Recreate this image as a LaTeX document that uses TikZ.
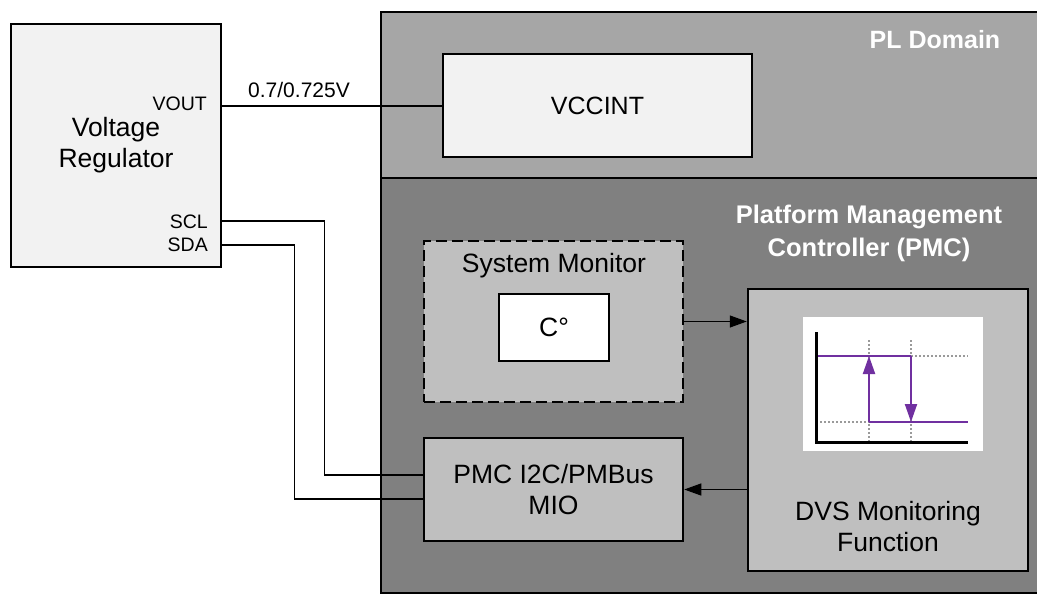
\documentclass[tikz,border=0pt]{standalone}
\usepackage{fontspec}
\setmainfont{Liberation Sans}
\usetikzlibrary{arrows.meta}

\definecolor{boxlight}{HTML}{F2F2F2}
\definecolor{pldomain}{HTML}{A6A6A6}
\definecolor{pmcdomain}{HTML}{808080}
\definecolor{boxmid}{HTML}{BFBFBF}
\definecolor{dvspurple}{HTML}{7030A0}
\definecolor{dotgray}{HTML}{9A9A9A}

\tikzset{
  block/.style={draw=black, line width=2.5pt, align=center, inner sep=0pt,
    font=\fontsize{26.5}{31}\selectfont},
  pinlabel/.style={inner sep=0pt, font=\fontsize{19.5}{22}\selectfont},
  regionlabel/.style={inner sep=0pt, text=white, align=center,
    font=\bfseries\fontsize{25.5}{33}\selectfont},
  wire/.style={line width=1.3pt},
  sigarrow/.style={line width=1.3pt, -{Triangle[length=17pt,width=12pt]}},
  levelline/.style={dvspurple, line width=2pt},
  levelarrow/.style={dvspurple, line width=2pt, -{Triangle[length=18pt,width=12pt]}},
  guide/.style={dotgray, line width=1.5pt, dash pattern=on 1.5pt off 2.5pt},
}

\begin{document}
\begin{tikzpicture}[x=1pt,y=-1pt]
  \useasboundingbox (0,0) rectangle (1037,594);
  \clip (0,0) rectangle (1037,594);

  % Domains
  \filldraw[fill=pldomain, line width=2.5pt] (381,12) rectangle (1050,178);
  \filldraw[fill=pmcdomain, line width=2.5pt] (381,178) rectangle (1050,593);
  \node[regionlabel, font=\bfseries\fontsize{25}{33}\selectfont] (pllabel) at (935,40) {PL Domain};
  \node[regionlabel] (pmclabel) at (869,233) {Platform Management\\Controller (PMC)};

  % Voltage regulator
  \node[block, fill=boxlight, minimum width=210, minimum height=243] (vr) at (116,145.5) {Voltage\\Regulator};
  \node[pinlabel, anchor=east] (voutlabel) at (207,104) {VOUT};
  \node[pinlabel, anchor=east] (scllabel) at (208,222) {SCL};
  \node[pinlabel, anchor=east] (sdalabel) at (208,245) {SDA};
  \coordinate (vout) at (vr.east |- 0,106);
  \coordinate (scl) at (vr.east |- 0,221);
  \coordinate (sda) at (vr.east |- 0,245);

  % PL blocks
  \node[block, fill=boxlight, font=\fontsize{25}{31}\selectfont, minimum width=309, minimum height=103] (vcc) at (597.5,105.5) {VCCINT};

  % PMC blocks
  \node[block, fill=boxmid, dash pattern=on 11pt off 5pt, minimum width=259, minimum height=161] (sysmon) at (553.5,321.5) {};
  \node[inner sep=0pt, font=\fontsize{26.5}{31}\selectfont] (sysmonlabel) at (554,266) {System Monitor};
  \node[block, fill=white, minimum width=110, minimum height=67] (temp) at (554,327.5) {C\textdegree};
  \node[block, fill=boxmid, minimum width=259, minimum height=103] (pmcio) at (553.5,489.5) {PMC I2C/PMBus\\MIO};
  \node[block, fill=boxmid, minimum width=280, minimum height=282] (dvs) at (888,430) {};
  \node[inner sep=0pt, align=center, font=\fontsize{26.5}{31}\selectfont] (dvslabel) at (888,527) {DVS Monitoring\\Function};

  % Hysteresis plot
  \node[fill=white, inner sep=0pt, minimum width=180, minimum height=134] (plot) at (893,384) {};
  \draw[guide] (869,340) -- (869,442);
  \draw[guide] (911,340) -- (911,442);
  \draw[guide] (911,356) -- (968,356);
  \draw[guide] (816,422) -- (869,422);
  \draw[levelline] (818,356) -- (911,356);
  \draw[levelline] (869,422) -- (968,422);
  \draw[levelarrow] (869,422) -- (869,356);
  \draw[levelarrow] (911,356) -- (911,422);
  \draw[line width=3pt] (816,332) -- (816,442) -- (968,442);

  % Connections
  \draw[wire] (vout) -- (vout -| vcc.west);
  \node[pinlabel, font=\fontsize{21}{24}\selectfont] (voltlabel) at (299,90) {0.7/0.725V};
  \coordinate (iosclk) at (pmcio.west |- 0,475);
  \coordinate (iodata) at (pmcio.west |- 0,499);
  \draw[wire] (scl) -- ++(102,0) |- (iosclk);
  \draw[wire] (sda) -- ++(72,0) |- (iodata);
  \draw[sigarrow] (sysmon.east) -- (sysmon.east -| dvs.west);
  \draw[sigarrow] (pmcio.east -| dvs.west) -- (pmcio.east);
\end{tikzpicture}
\end{document}
